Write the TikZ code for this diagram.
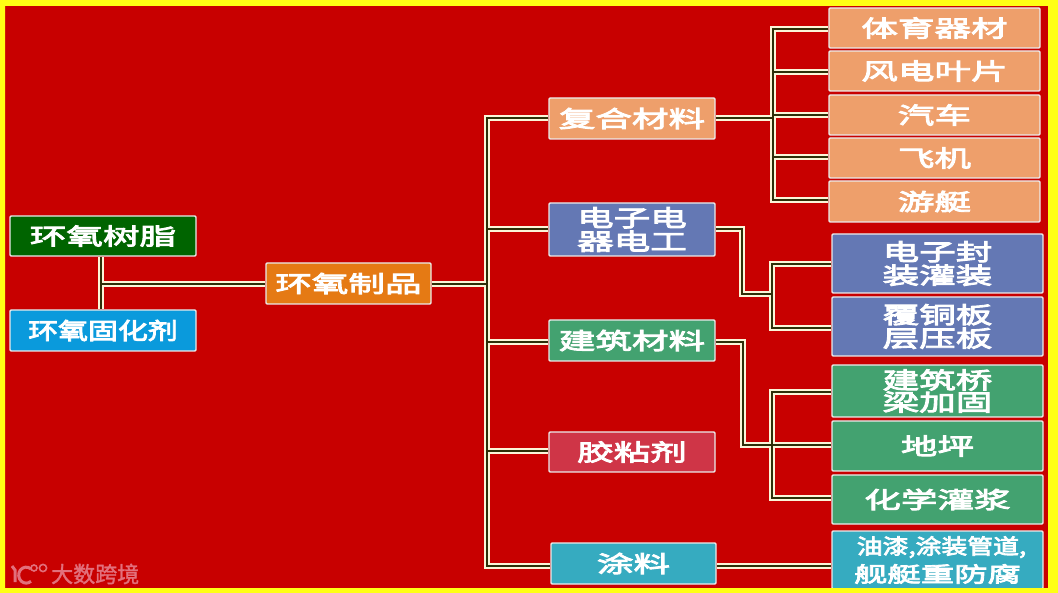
\documentclass[tikz,border=0pt]{standalone}
\usepackage{fontspec}
\newfontfamily\cjkA[FakeStretch=1.59,FakeBold=4]{Noto Sans CJK SC}
\newfontfamily\cjkB[FakeStretch=1.3,FakeBold=4]{Noto Sans CJK SC}
\newfontfamily\cjkC[FakeStretch=1.23,FakeBold=3.5]{Noto Sans CJK SC}
\newfontfamily\cjkW[FakeBold=1.5]{Noto Sans CJK SC}
\definecolor{bgred}{HTML}{C80000}
\definecolor{rim}{HTML}{FFFF14}
\definecolor{cream}{HTML}{FBF5D8}
\definecolor{core}{HTML}{2E2E08}
\definecolor{dgreen}{HTML}{006400}
\definecolor{sky}{HTML}{0A9ADC}
\definecolor{orange1}{HTML}{E57A14}
\definecolor{salmon}{HTML}{EE9F6B}
\definecolor{slate}{HTML}{6478B4}
\definecolor{jade}{HTML}{43A270}
\definecolor{rose}{HTML}{CF3547}
\definecolor{teal1}{HTML}{36ABC0}
\definecolor{wmark}{HTML}{E2707C}
\tikzset{
  box/.style={draw=white!92!black,line width=1.4pt,rounded corners=1.2pt,inner sep=0pt,
    minimum width=#1,text=white,align=center,
    font=\cjkA\fontsize{23}{23.5}\selectfont},
  conn/.style={draw=cream,line width=1.4pt,double=core,double distance=2.8pt,line join=miter},
}
\begin{document}
\begin{tikzpicture}[x=1pt,y=-1pt]
\useasboundingbox (0,0) rectangle (1058,593);
\fill[bgred] (0,0) rectangle (1058,593);
% junction coordinates
\coordinate (ja) at (101,284);
\coordinate (jb) at (487,284);
\coordinate (jc1) at (487,118);
\coordinate (jc2) at (487,229);
\coordinate (jc3) at (487,342);
\coordinate (jc4) at (487,451);
\coordinate (jc5) at (487,566);
\coordinate (jd) at (773,118);
\coordinate (d1) at (773,29);
\coordinate (d2) at (773,72);
\coordinate (d3) at (773,115);
\coordinate (d4) at (773,157);
\coordinate (d5) at (773,200);
\coordinate (e1) at (742,229);
\coordinate (e2) at (742,294);
\coordinate (e3) at (772,294);
\coordinate (e4) at (772,264);
\coordinate (e5) at (772,328);
\coordinate (f1) at (743,342);
\coordinate (f2) at (743,445);
\coordinate (f3) at (772,445);
\coordinate (f4) at (772,392);
\coordinate (f5) at (772,498);
% nodes
\node[box=186pt,minimum height=40pt,fill=dgreen] (resin) at (103,236) {环氧树脂};
\node[box=186pt,minimum height=41pt,fill=sky,font=\cjkB\fontsize{23}{23.5}\selectfont] (hard) at (103,330.5) {环氧固化剂};
\node[box=165pt,minimum height=41pt,fill=orange1] (prod) at (348.5,283.5) {环氧制品};
\node[box=166pt,minimum height=41pt,fill=salmon] (comp) at (632,118.5) {复合材料};
\node[box=166pt,minimum height=53pt,fill=slate] (elec) at (632,229.5) {电子电\\器电工};
\node[box=166pt,minimum height=41pt,fill=jade] (buil) at (632,340.5) {建筑材料};
\node[box=166pt,minimum height=40pt,fill=rose] (glue) at (632,452) {胶粘剂};
\node[box=165pt,minimum height=41pt,fill=teal1] (coat) at (633.5,563.5) {涂料};
\node[box=211pt,minimum height=40pt,fill=salmon] (r1) at (934.5,28) {体育器材};
\node[box=211pt,minimum height=40pt,fill=salmon] (r2) at (934.5,71) {风电叶片};
\node[box=211pt,minimum height=40pt,fill=salmon] (r3) at (934.5,115) {汽车};
\node[box=211pt,minimum height=40pt,fill=salmon] (r4) at (934.5,158) {飞机};
\node[box=211pt,minimum height=41pt,fill=salmon] (r5) at (934.5,201.5) {游艇};
\node[box=211pt,minimum height=59pt,fill=slate] (s1) at (937.5,263.5) {电子封\\装灌装};
\node[box=211pt,minimum height=59pt,fill=slate] (s2) at (937.5,326.5) {覆铜板\\层压板};
\node[box=211pt,minimum height=52pt,fill=jade,font=\cjkA\fontsize{23}{22}\selectfont] (t1) at (937.5,391) {建筑桥\\梁加固};
\node[box=211pt,minimum height=50pt,fill=jade] (t2) at (937.5,446) {地坪};
\node[box=211pt,minimum height=49pt,fill=jade] (t3) at (937.5,499.5) {化学灌浆};
\node[box=211pt,minimum height=58pt,fill=teal1,font=\cjkA\fontsize{21}{28}\selectfont] (u1) at (937.5,560)
  {\hspace*{8pt}{\cjkC 油漆,涂装管道,}\\{\cjkA 舰艇重防腐}};
% connectors
\draw[conn] (ja|-resin.south) -- (ja|-hard.north) (ja) -- (ja-|prod.west);
\draw[conn] (jb-|prod.east) -- (jb) (jc1-|comp.west) -- (jc1) -- (jc5) -- (jc5-|coat.west)
  (jc2) -- (jc2-|elec.west) (jc3) -- (jc3-|buil.west) (jc4) -- (jc4-|glue.west);
\draw[conn] (jd-|comp.east) -- (jd) (d1-|r1.west) -- (d1) -- (d5) -- (d5-|r5.west)
  (d2) -- (d2-|r2.west) (d3) -- (d3-|r3.west) (d4) -- (d4-|r4.west);
\draw[conn] (e1-|elec.east) -- (e1) -- (e2) -- (e3)
  (e4-|s1.west) -- (e4) -- (e5) -- (e5-|s2.west);
\draw[conn] (f1-|buil.east) -- (f1) -- (f2) -- (f3) -- (f3-|t2.west)
  (f4-|t1.west) -- (f4) -- (f5) -- (f5-|t3.west);
\draw[conn] (jc5-|coat.east) -- (jc5-|u1.west);
% watermark
\node[anchor=west,inner sep=0pt,text=wmark,font=\cjkW\fontsize{22}{22}\selectfont] (wm) at (51,574) {大数跨境};
\draw[wmark,line width=3pt] (12,566) -- (15,570) -- (15,582);
\draw[wmark,line width=3pt] (31,569) arc (50:310:7.5pt and 8pt);
\draw[wmark,line width=1.6pt] (34,568) circle (3pt) (43,568) circle (3.6pt);
% frame
\fill[rim,even odd rule] (0,0) rectangle (1058,593) (5,6) rectangle (1048,588);
\end{tikzpicture}
\end{document}
